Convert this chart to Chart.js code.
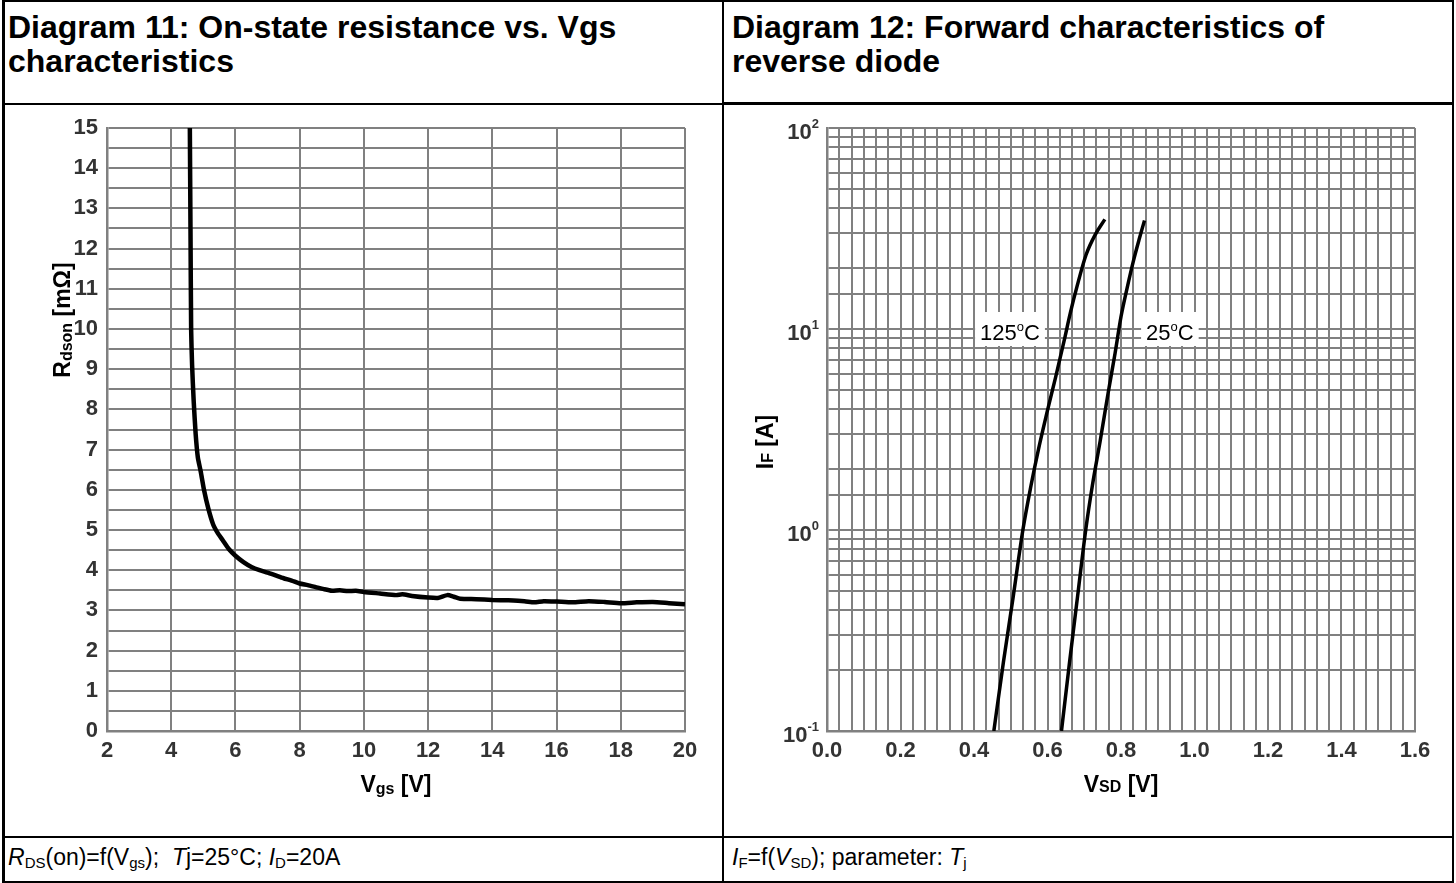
<!DOCTYPE html>
<html>
<head>
<meta charset="utf-8">
<script src="https://cdn.jsdelivr.net/npm/chart.js@4.4.0/dist/chart.umd.min.js"></script>
<style>
  body { margin: 0; background: #fff; width: 1456px; height: 883px; overflow: hidden; position: relative; font-family: Arial, "Liberation Sans", sans-serif; }
  .ln { position: absolute; background: #000; }
  .title { position: absolute; font-weight: bold; font-size: 32px; line-height: 34px; color: #000; }
  .foot { position: absolute; font-size: 23px; color: #000; white-space: nowrap; }
  .foot sub { font-size: 15px; vertical-align: -3px; }
  canvas { position: absolute; }
</style>
</head>
<body>
<!-- table frame -->
<div class="ln" style="left:2px;top:0;width:1452px;height:2px"></div>
<div class="ln" style="left:2px;top:0;width:3px;height:883px"></div>
<div class="ln" style="left:1452px;top:0;width:2px;height:883px"></div>
<div class="ln" style="left:2px;top:881px;width:1452px;height:2px"></div>
<div class="ln" style="left:722px;top:0;width:2px;height:883px"></div>
<div class="ln" style="left:2px;top:103px;width:722px;height:2px"></div>
<div class="ln" style="left:722px;top:102px;width:732px;height:3px"></div>
<div class="ln" style="left:2px;top:836px;width:1452px;height:2px"></div>

<div class="title" style="left:8px;top:10px">Diagram 11: On-state resistance vs. Vgs<br>characteristics</div>
<div class="title" style="left:732px;top:10px">Diagram 12: Forward characteristics of<br>reverse diode</div>

<canvas id="rdsChart" width="723" height="730" style="left:0;top:105px"></canvas>
<canvas id="diodeChart" width="729" height="730" style="left:724px;top:105px"></canvas>

<div class="foot" style="left:8px;top:844px"><i>R</i><sub>DS</sub>(on)=f(V<sub>gs</sub>);&nbsp; <i>T</i>j=25°C; <i>I</i><sub>D</sub>=20A</div>
<div class="foot" style="left:732px;top:844px"><i>I</i><sub>F</sub>=f(<i>V</i><sub>SD</sub>); parameter: <i>T</i><sub>j</sub></div>

<script>
// Diagram 11 data
const vgs = [4.58, 4.60, 4.62, 4.65, 4.70, 4.76, 4.83, 4.92, 5.02, 5.15, 5.30, 5.45, 5.60, 5.80, 6.00,
  6.25, 6.50, 6.75, 7.00, 7.25, 7.50, 7.75, 8.00, 8.25, 8.50, 8.75, 9.00, 9.25, 9.50, 9.75, 10.0,
  10.5, 11.0, 11.2, 11.5, 12.0, 12.3, 12.6, 12.8, 13.0, 13.5, 14.0, 14.5, 15.0, 15.3, 15.6, 16.0,
  16.5, 17.0, 17.5, 18.0, 18.5, 19.0, 19.5, 20.0];
const rdson = [15.0, 12.5, 10.0, 9.1, 8.2, 7.4, 6.8, 6.45, 6.0, 5.55, 5.15, 4.92, 4.75, 4.52, 4.36,
  4.2, 4.08, 4.0, 3.94, 3.87, 3.8, 3.74, 3.67, 3.63, 3.58, 3.53, 3.49, 3.5, 3.48, 3.49, 3.46,
  3.42, 3.38, 3.4, 3.36, 3.32, 3.31, 3.38, 3.34, 3.29, 3.28, 3.26, 3.25, 3.23, 3.2, 3.23, 3.22,
  3.2, 3.23, 3.21, 3.18, 3.2, 3.21, 3.18, 3.15];

// Diagram 12 data
const vsd125 = [0.454, 0.480, 0.507, 0.533, 0.555, 0.575, 0.598, 0.622, 0.645, 0.662, 0.680, 0.705, 0.730, 0.756];
const if125 = [0.1, 0.22, 0.47, 1.0, 1.66, 2.5, 3.8, 5.75, 8.7, 12.0, 16.2, 23.4, 29.5, 35.1];
const vsd25 = [0.638, 0.660, 0.682, 0.704, 0.722, 0.743, 0.765, 0.784, 0.800, 0.816, 0.834, 0.850, 0.864];
const if25 = [0.1, 0.22, 0.47, 1.0, 1.66, 2.75, 4.8, 7.6, 11.5, 15.8, 21.9, 28.2, 34.7];

const decades = [0.1, 1, 10, 100];
const decadeExp = ['-1', '0', '1', '2'];
const tempNames = ['125', '25'];
const tempLabelAt = [[0.498, 10], [0.933, 10]];

const GRID = '#808080';
const TICK = '#333333';
const FONT = 'Arial, "Liberation Sans", sans-serif';

// draw a row of text pieces with different sizes (sub/superscripts)
function drawRuns(ctx, runs, x, y, align, angle) {
  ctx.save();
  ctx.translate(x, y);
  if (angle) ctx.rotate(angle);
  ctx.textAlign = 'left';
  ctx.textBaseline = 'alphabetic';
  let total = 0;
  runs.forEach(r => { ctx.font = r.font; total += ctx.measureText(r.t).width; });
  let cx = align === 'center' ? -total / 2 : (align === 'right' ? -total : 0);
  runs.forEach(r => {
    ctx.font = r.font;
    ctx.fillStyle = r.color || '#000';
    ctx.fillText(r.t, cx, r.dy || 0);
    cx += ctx.measureText(r.t).width;
  });
  ctx.restore();
  return total;
}

const big = 'bold 23px ' + FONT;
const small = 'bold 16px ' + FONT;
const tickFont = { family: FONT, size: 22, weight: 'bold' };

function fixWidth(w) { return s => { s.width = w; }; }
function fixHeight(h) { return s => { s.height = h; }; }

// ---------- Diagram 11 ----------
new Chart(document.getElementById('rdsChart'), {
  type: 'scatter',
  data: {
    datasets: [{
      data: vgs.map((v, i) => ({ x: v, y: rdson[i] })),
      showLine: true,
      borderColor: '#000',
      borderWidth: 4.5,
      pointRadius: 0,
      tension: 0.2
    }]
  },
  options: {
    responsive: false,
    animation: false,
    devicePixelRatio: 1,
    layout: { padding: { top: 23, right: 38, left: 0, bottom: 0 } },
    plugins: { legend: { display: false }, tooltip: { enabled: false } },
    scales: {
      x: {
        type: 'linear', min: 2, max: 20,
        afterFit: fixHeight(104),
        grid: { color: GRID, lineWidth: 2, drawTicks: false },
        border: { color: GRID, width: 2.5 },
        ticks: { stepSize: 2, autoSkip: false, maxRotation: 0, padding: 7, color: TICK, font: tickFont }
      },
      y: {
        type: 'linear', min: 0, max: 15,
        afterFit: fixWidth(107),
        grid: { color: GRID, lineWidth: 2, drawTicks: false },
        border: { color: GRID, width: 2.5 },
        ticks: { stepSize: 0.5, autoSkip: false, padding: 9, color: TICK, font: tickFont,
          callback: v => Number.isInteger(v) ? v : '' }
      }
    }
  },
  plugins: [{
    id: 'axisTitles11',
    afterDraw(chart) {
      const { ctx, chartArea: a } = chart;
      drawRuns(ctx, [{ t: 'V', font: big }, { t: 'gs', font: small, dy: 2 }, { t: ' [V]', font: big }],
        (a.left + a.right) / 2, a.bottom + 61, 'center');
      drawRuns(ctx, [{ t: 'R', font: big }, { t: 'dson', font: small, dy: 2 }, { t: ' [mΩ]', font: big }],
        70, a.top + 192, 'center', -Math.PI / 2);
    }
  }]
});

// ---------- Diagram 12 ----------
new Chart(document.getElementById('diodeChart'), {
  type: 'scatter',
  data: {
    datasets: [
      { data: vsd125.map((v, i) => ({ x: v, y: if125[i] })) },
      { data: vsd25.map((v, i) => ({ x: v, y: if25[i] })) }
    ].map(d => Object.assign(d, {
      showLine: true, borderColor: '#000', borderWidth: 3.5, pointRadius: 0,
      cubicInterpolationMode: 'monotone'
    }))
  },
  options: {
    responsive: false,
    animation: false,
    devicePixelRatio: 1,
    layout: { padding: { top: 23, right: 38, left: 0, bottom: 0 } },
    plugins: { legend: { display: false }, tooltip: { enabled: false } },
    scales: {
      x: {
        type: 'linear', min: 0, max: 1.6,
        afterFit: fixHeight(104),
        grid: { color: GRID, lineWidth: 2, drawTicks: false },
        border: { color: GRID, width: 2.5 },
        ticks: { stepSize: 0.2 / 6, autoSkip: false, maxRotation: 0, padding: 7, color: TICK, font: tickFont,
          callback: (v, i) => i % 6 === 0 ? v.toFixed(1) : '' }
      },
      y: {
        type: 'logarithmic', min: 0.1, max: 100,
        afterFit: fixWidth(103),
        grid: { color: GRID, lineWidth: 2, drawTicks: false },
        border: { color: GRID, width: 2.5 },
        ticks: { autoSkip: false, callback: () => '' }
      }
    }
  },
  plugins: [{
    id: 'labels12',
    beforeDatasetsDraw(chart) {
      const { ctx, scales: { x, y } } = chart;
      tempNames.forEach((name, i) => {
        const px = x.getPixelForValue(tempLabelAt[i][0]);
        const py = y.getPixelForValue(tempLabelAt[i][1]);
        const runs = [{ t: name, font: '22px ' + FONT }, { t: 'o', font: '13px ' + FONT, dy: -9 }, { t: 'C', font: '22px ' + FONT }];
        let w = 0;
        runs.forEach(r => { ctx.font = r.font; w += ctx.measureText(r.t).width; });
        ctx.fillStyle = '#fff';
        ctx.fillRect(px - w / 2 - 5, py - 17, w + 10, 34);
        drawRuns(ctx, runs, px, py + 11, 'center');
      });
    },
    afterDraw(chart) {
      const { ctx, chartArea: a, scales: { y } } = chart;
      decades.forEach((d, i) => {
        const py = y.getPixelForValue(d);
        drawRuns(ctx, [
          { t: '10', font: 'bold 22px ' + FONT, color: TICK, dy: 11 },
          { t: decadeExp[i], font: 'bold 13px ' + FONT, color: TICK, dy: 0 }
        ], a.left - 8, py, 'right');
      });
      drawRuns(ctx, [{ t: 'V', font: big }, { t: 'SD', font: small }, { t: ' [V]', font: big }],
        (a.left + a.right) / 2, a.bottom + 61, 'center');
      drawRuns(ctx, [{ t: 'I', font: big }, { t: 'F', font: small }, { t: ' [A]', font: big }],
        49, a.top + 314, 'center', -Math.PI / 2);
    }
  }]
});
</script>
</body>
</html>
